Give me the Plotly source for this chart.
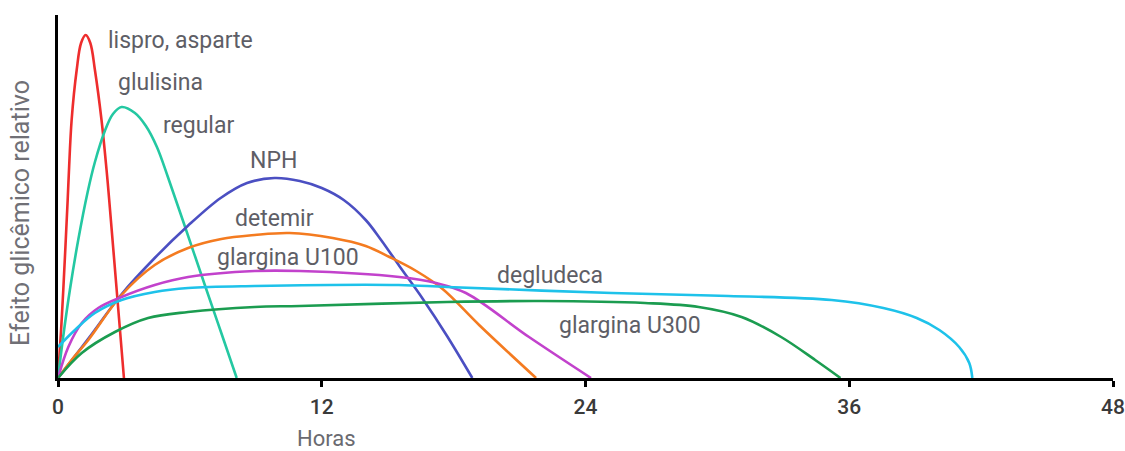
import plotly.graph_objects as go

# Hours (x) and relative glycemic effect (arbitrary units)
lispro_x = [0, 0.14, 0.24, 0.44, 0.5, 0.62, 0.85, 1.05, 1.26, 1.47, 1.68, 1.98, 2.21, 2.33, 2.67, 3.0]
lispro_y = [0, 48, 88, 178, 208, 258, 308, 335, 343, 335, 308, 258, 208, 178, 88, 0]

glulisina_x = [0, 0.24, 0.54, 0.92, 1.35, 1.68, 2.13, 2.5, 2.89, 3.5, 4.0, 4.5, 5.0, 5.69, 6.68, 7.43, 8.13]
glulisina_y = [0, 42, 88, 138, 186, 216, 247, 264, 271, 265, 252, 231, 201, 157, 93, 45, 0]

nph_x = [0, 1.4, 2.9, 4.4, 5.9, 7.4, 8.6, 9.85, 11.0, 12.0, 13.0, 14.0, 14.7, 15.53, 16.6, 17.7, 18.85]
nph_y = [0, 40, 84, 120, 152, 180, 195, 200, 197, 190, 178, 158, 138, 112, 79, 42, 0]

detemir_x = [0, 0.62, 1.38, 2.89, 4.4, 5.92, 7.43, 8.95, 10.54, 12.5, 14.0, 15.08, 16.3, 17.5, 19.16, 21.75]
detemir_y = [0, 18, 38, 83, 113, 130, 139, 143, 145, 140, 132, 121, 107, 89, 53, 0]

u100_x = [0, 0.47, 1.08, 1.83, 2.89, 4.4, 5.92, 8.95, 11.0, 15.53, 17.2, 18.56, 21.43, 24.25]
u100_y = [0, 31, 55, 70, 81, 93, 101, 107, 107, 101, 95, 85, 41, 0]

degludeca_x = [0, 0.77, 1.68, 2.89, 4.4, 5.92, 8.95, 15.5, 17.7, 25.2, 30.5, 35.2, 37.55, 39.07, 40.1, 41.0, 41.46, 41.6]
degludeca_y = [31, 48, 65, 78, 86, 90, 92, 93, 91, 85, 82, 78, 70, 60, 48, 31, 15, 0]

u300_x = [0, 1.08, 2.59, 4.1, 5.92, 8.95, 11.0, 17.7, 22.0, 26.7, 29.15, 31.1, 32.9, 34.45, 35.6]
u300_y = [0, 25, 46, 60, 66, 71, 72, 76, 77, 75, 71, 61, 41, 18, 0]

series = [
    ("lispro, asparte", lispro_x, lispro_y, "#ee2d2d"),
    ("glulisina / regular", glulisina_x, glulisina_y, "#24c8a2"),
    ("NPH", nph_x, nph_y, "#4b4fc2"),
    ("detemir", detemir_x, detemir_y, "#f47b20"),
    ("glargina U100", u100_x, u100_y, "#c242cc"),
    ("degludeca", degludeca_x, degludeca_y, "#1ec2ea"),
    ("glargina U300", u300_x, u300_y, "#1b9c50"),
]

# Curve labels: text, x (hours, left edge), y (units, middle)
label_text = ["lispro, asparte", "glulisina", "regular", "NPH", "detemir",
              "glargina U100", "degludeca", "glargina U300"]
label_x = [2.2, 2.65, 4.67, 8.65, 7.95, 7.15, 19.9, 22.7]
label_y = [338, 296, 253, 218, 160, 121, 103, 53]

tick_vals = [0, 12, 24, 36, 48]
tick_text = ["0", "12", "24", "36", "48"]

fig = go.Figure()
for name, xs, ys, col in series:
    fig.add_trace(go.Scatter(
        x=xs, y=ys, mode="lines", name=name,
        line=dict(color=col, width=2.6, shape="spline", smoothing=1.0),
        hoverinfo="skip",
    ))

for t, x, y in zip(label_text, label_x, label_y):
    fig.add_annotation(
        x=x, y=y, text=t, showarrow=False, xanchor="left", yanchor="middle",
        font=dict(family="Roboto", size=23, color="#5e5e66"),
    )

fig.add_annotation(
    x=12.2, y=0, yref="y", text="Horas", showarrow=False,
    xanchor="center", yanchor="middle", yshift=-60,
    font=dict(family="Roboto", size=22, color="#6a6a70"),
)
fig.add_annotation(
    xref="paper", yref="paper", x=-0.035, y=0.455, text="Efeito glicêmico relativo",
    textangle=-90, showarrow=False, xanchor="center", yanchor="middle",
    font=dict(family="Roboto", size=25, color="#707076"),
)

fig.update_layout(
    width=1125, height=451,
    margin=dict(l=58, r=12, t=15, b=73, autoexpand=False),
    paper_bgcolor="white", plot_bgcolor="white",
    showlegend=False,
)
fig.update_xaxes(
    range=[0, 48], tickvals=tick_vals, ticktext=tick_text, automargin=False,
    showgrid=False, zeroline=False, showline=True, linecolor="black", linewidth=3,
    ticks="outside", ticklen=6, tickwidth=3, tickcolor="black",
    ticklabelstandoff=2,
    tickfont=dict(family="Roboto", size=21, color="#3a3a3a", weight=500),
)
fig.update_yaxes(
    range=[0, 363], showticklabels=False, ticks="", automargin=False,
    showgrid=False, zeroline=False, showline=True, linecolor="black", linewidth=3,
)

fig.write_html("out.html", config={"displayModeBar": False},
               post_script="document.body.style.margin='0';")
